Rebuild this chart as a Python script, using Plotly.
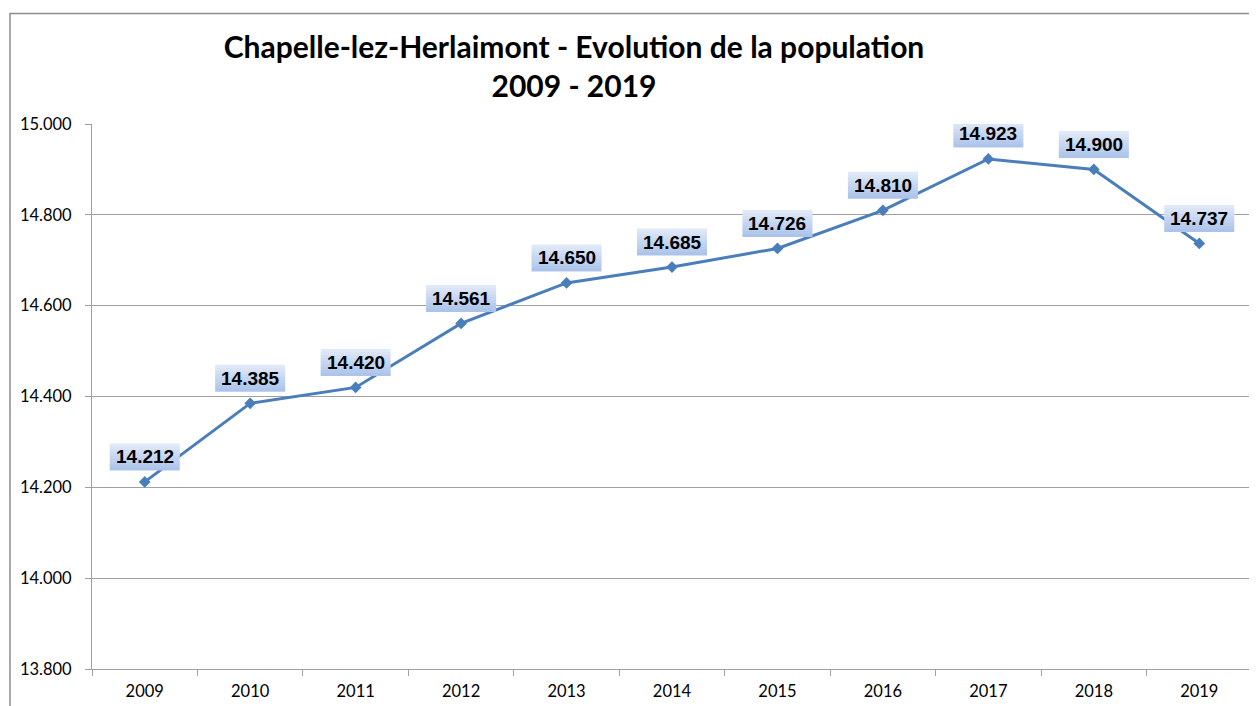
import plotly.graph_objects as go

years = ["2009", "2010", "2011", "2012", "2013", "2014", "2015", "2016", "2017", "2018", "2019"]
population = [14212, 14385, 14420, 14561, 14650, 14685, 14726, 14810, 14923, 14900, 14737]
y_ticks = [13800, 14000, 14200, 14400, 14600, 14800, 15000]
y_tick_labels = ["13.800", "14.000", "14.200", "14.400", "14.600", "14.800", "15.000"]
point_labels = [f"{v:,}".replace(",", ".") for v in population]

# page body has an 8px margin -> figure is drawn 8px in from the window edge
W, H = 1249, 698
ML, MR, MT, MB = 84, 5, 116, 35
PW, PH = W - ML - MR, H - MT - MB

fig = go.Figure()
fig.add_trace(go.Scatter(
    x=list(range(len(years))), y=population, mode="lines+markers",
    line=dict(color="#4a7ebb", width=3),
    marker=dict(symbol="diamond", size=9, color="#4a7ebb"),
    hoverinfo="skip", showlegend=False,
))

# gradient label boxes (pixel sized, anchored at each data point)
top_rgb = (224, 233, 248)
bot_rgb = (172, 196, 234)
n_stripes = 9
box_w, box_h, shift = 70, 27, 25
shapes = []
for i, v in enumerate(population):
    for s in range(n_stripes):
        t = s / (n_stripes - 1)
        c = tuple(round(top_rgb[k] + (bot_rgb[k] - top_rgb[k]) * t) for k in range(3))
        y_top = shift + box_h / 2 - s * box_h / n_stripes
        y_bot = y_top - box_h / n_stripes - 0.6
        if s == n_stripes - 1:
            y_bot = shift - box_h / 2
        shapes.append(dict(
            type="rect", xref="x", yref="y", xsizemode="pixel", ysizemode="pixel",
            xanchor=i, yanchor=v, x0=-box_w / 2, x1=box_w / 2, y0=y_bot, y1=y_top,
            fillcolor=f"rgb{c}", line=dict(width=0), layer="above",
        ))

annotations = []
for i, (v, lab) in enumerate(zip(population, point_labels)):
    annotations.append(dict(
        x=i, y=v, xref="x", yref="y", text=f"<b>{lab}</b>", showarrow=False, yshift=shift,
        font=dict(family="Liberation Sans, Arial", size=19, color="black"),
    ))

shapes.append(dict(
    type="rect", xref="paper", yref="paper",
    x0=-(ML - 2) / PW, x1=1 + 20 / PW, y0=-(MB + 20) / PH, y1=1 + (MT - 5) / PH,
    line=dict(color="#8c8c8c", width=1.5), fillcolor="rgba(0,0,0,0)", layer="below",
))

fig.update_layout(
    width=W, height=H,
    margin=dict(l=ML, r=MR, t=MT, b=MB),
    paper_bgcolor="white", plot_bgcolor="white",
    title=dict(
        text="<b>Chapelle-lez-Herlaimont - Evolution de la population<br>2009 - 2019</b>",
        x=(574 - 8) / W, xanchor="center", y=1 - 50 / H, yanchor="top",
        font=dict(family="Lato, Open Sans, sans-serif", size=30, color="black"),
    ),
    xaxis=dict(
        tickmode="array", tickvals=list(range(len(years))), ticktext=years,
        showgrid=False, ticks="", showline=True, linecolor="#a0a0a0", linewidth=1,
        tickfont=dict(family="Lato, sans-serif", size=16.5, color="black"),
        range=[-0.5, len(years) - 0.5], zeroline=False, ticklabelstandoff=7,
    ),
    xaxis2=dict(
        overlaying="x", range=[-0.5, len(years) - 0.5], tickmode="array",
        tickvals=[k - 0.5 for k in range(len(years) + 1)], ticks="outside", ticklen=6,
        tickcolor="#a0a0a0", showticklabels=False, showgrid=False, side="bottom",
        anchor="y", zeroline=False,
    ),
    yaxis=dict(
        range=[13800, 15000], tickvals=y_ticks, ticktext=y_tick_labels,
        ticks="outside", ticklen=6, tickcolor="#a0a0a0",
        showline=True, linecolor="#a0a0a0", linewidth=1,
        showgrid=True, gridcolor="#a0a0a0", gridwidth=1,
        tickfont=dict(family="Lato, sans-serif", size=16.5, color="black"),
        zeroline=False, ticklabelstandoff=10,
    ),
    shapes=shapes,
    annotations=annotations,
)
fig.add_trace(go.Scatter(x=[0], y=[None], xaxis="x2", yaxis="y", showlegend=False, hoverinfo="skip"))

fig.write_html("out.html")
